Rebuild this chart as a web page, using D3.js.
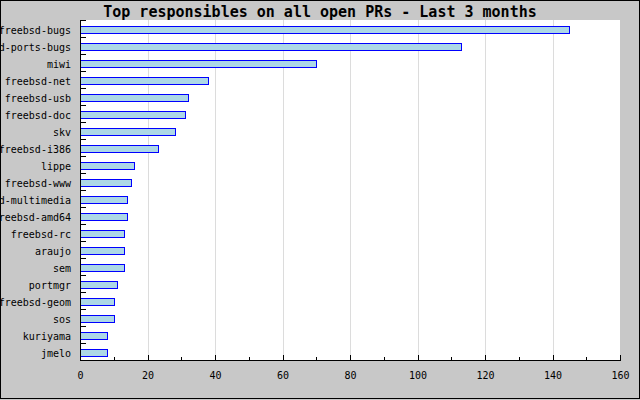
<!DOCTYPE html>
<html><head><meta charset="utf-8">
<script src="https://cdn.jsdelivr.net/npm/d3@7"></script>
<style>html,body{margin:0;padding:0;background:#c8c8c8;}svg{display:block;}</style>
</head><body>
<svg id="chart" width="640" height="400"></svg>
<script>
const categories = ["freebsd-bugs","freebsd-ports-bugs","miwi","freebsd-net","freebsd-usb","freebsd-doc","skv","freebsd-i386","lippe","freebsd-www","freebsd-multimedia","freebsd-amd64","freebsd-rc","araujo","sem","portmgr","freebsd-geom","sos","kuriyama","jmelo"];
const values = [145,113,70,38,32,31,28,23,16,15,14,14,13,13,13,11,10,10,8,8];
const xTicks = [0,20,40,60,80,100,120,140,160];
const title = "Top responsibles on all open PRs - Last 3 months";

(function(){
const svg = d3.select("#chart");
const W = 640, H = 400;
const pL = 80, pR = 620, pT = 20, pB = 360;
const font = "'DejaVu Sans Mono', monospace";

svg.append("rect").attr("x",0).attr("y",0).attr("width",W).attr("height",H).attr("fill","#c8c8c8");
svg.append("rect").attr("x",pL).attr("y",pT).attr("width",pR-pL).attr("height",pB-pT).attr("fill","#ffffff");

const x = d3.scaleLinear().domain([0,160]).range([pL,pR]);
const y = d3.scaleBand().domain(categories).range([pT,pB]).padding(0);

// gridlines
svg.append("g").selectAll("line").data(xTicks.filter(d=>d>0 && d<160)).join("line")
  .attr("x1",d=>Math.round(x(d))+0.5).attr("x2",d=>Math.round(x(d))+0.5)
  .attr("y1",pT).attr("y2",pB).attr("stroke","#dcdcdc").attr("stroke-width",1);

// bars
svg.append("g").selectAll("rect").data(categories).join("rect")
  .attr("x",pL+0.5)
  .attr("y",d=>Math.round(y(d))+6.5)
  .attr("width",(d,i)=>Math.round(x(values[i]))-pL)
  .attr("height",7)
  .attr("fill","#add8e6").attr("stroke","#0000ff").attr("stroke-width",1);

// y axis
svg.append("line").attr("x1",pL+0.5).attr("x2",pL+0.5).attr("y1",pT).attr("y2",pB+1).attr("stroke","#000");
svg.append("g").selectAll("line").data(categories).join("line")
  .attr("x1",pL).attr("x2",pL+6)
  .attr("y1",d=>Math.round(y(d))+0.5).attr("y2",d=>Math.round(y(d))+0.5)
  .attr("stroke","#000");
svg.append("g").selectAll("text").data(categories).join("text")
  .attr("x",71).attr("y",d=>Math.round(y(d))+13.5)
  .attr("text-anchor","end").attr("font-family",font).attr("font-size","10px").attr("fill","#000")
  .text(d=>d);

// x axis
svg.append("line").attr("x1",pL).attr("x2",pR+1).attr("y1",pB+0.5).attr("y2",pB+0.5).attr("stroke","#000");
const minor = d3.range(0,161,10);
svg.append("g").selectAll("line").data(minor).join("line")
  .attr("x1",d=>Math.round(x(d))+0.5).attr("x2",d=>Math.round(x(d))+0.5)
  .attr("y1",pB).attr("y2",d=>d%20===0?pB-5:pB-3)
  .attr("stroke","#000");
svg.append("g").selectAll("text").data(xTicks).join("text")
  .attr("x",d=>x(d)+0.5).attr("y",379)
  .attr("text-anchor","middle").attr("font-family",font).attr("font-size","10px").attr("fill","#000")
  .text(d=>d);

// title
svg.append("text").attr("x",W/2).attr("y",17).attr("text-anchor","middle")
  .attr("font-family",font).attr("font-size","15px").attr("font-weight","bold").attr("fill","#000")
  .text(title);

// border
svg.append("rect").attr("x",0.5).attr("y",0.5).attr("width",W-1).attr("height",H-2)
  .attr("fill","none").attr("stroke","#000");
})();
</script>
</body></html>
